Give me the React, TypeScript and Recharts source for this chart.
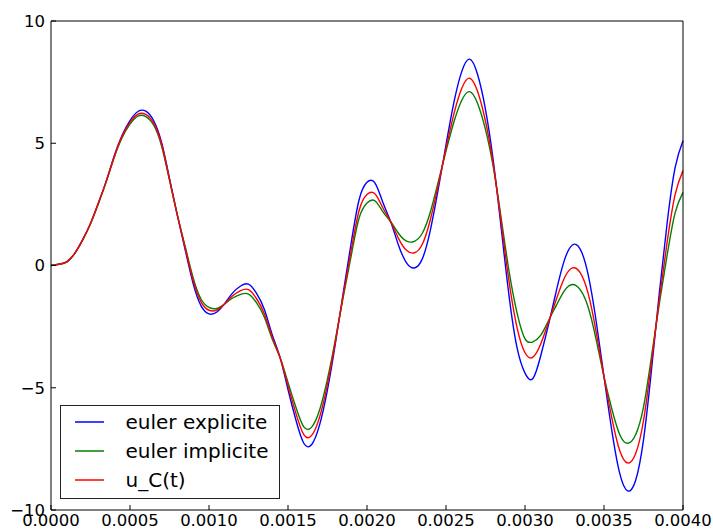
import { LineChart, Line, XAxis, YAxis, Legend } from 'recharts'

// time grid, step 0.05 ms
const step = 0.00005
const time = Array.from({ length: 81 }, (_, k) => +(k * step).toFixed(5))

const uC = [
  0, 0.05, 0.15, 0.5, 1.05, 1.72, 2.55, 3.45, 4.45, 5.28,
  5.85, 6.19, 6.18, 5.82, 4.95, 3.52, 2.05, 0.7, -0.62, -1.5,
  -1.83, -1.82, -1.56, -1.24, -1.03, -0.99, -1.35, -1.97, -2.93, -3.77,
  -4.92, -6.05, -6.92, -6.95, -6.2, -4.85, -3.1, -1.2, 0.62, 2.25,
  2.9, 2.93, 2.36, 1.79, 1.1, 0.62, 0.52, 0.87, 1.85, 3.27,
  4.78, 6.2, 7.25, 7.66, 7.12, 5.9, 4.1, 1.73, -0.7, -2.55,
  -3.57, -3.75, -3.2, -2.3, -1.35, -0.5, -0.1, -0.3, -1.15, -2.7,
  -4.55, -6.25, -7.58, -8.08, -7.7, -6.35, -3.98, -1.39, 0.98, 2.9,
  3.88,
]

const eulerExplicite = [
  0, 0.05, 0.15, 0.5, 1.05, 1.72, 2.56, 3.46, 4.48, 5.33,
  5.93, 6.3, 6.31, 5.92, 5.03, 3.56, 2.05, 0.62, -0.75, -1.65,
  -1.98, -1.9, -1.55, -1.12, -0.84, -0.76, -1.13, -1.79, -2.83, -3.77,
  -5.07, -6.32, -7.27, -7.32, -6.52, -5.08, -3.19, -1.1, 0.93, 2.69,
  3.4, 3.38, 2.59, 1.79, 0.82, 0.11, -0.1, 0.27, 1.42, 3.09,
  4.93, 6.67, 7.94, 8.44, 7.81, 6.38, 4.25, 1.49, -1.29, -3.37,
  -4.4, -4.62, -3.68, -2.39, -0.99, 0.23, 0.84, 0.66, -0.38, -2.26,
  -4.55, -6.77, -8.51, -9.22, -8.79, -7.13, -4.3, -1.14, 1.76, 4.0,
  5.1,
]

const eulerImplicite = [
  0, 0.05, 0.15, 0.49, 1.04, 1.71, 2.53, 3.43, 4.42, 5.23,
  5.78, 6.11, 6.09, 5.74, 4.89, 3.49, 2.05, 0.76, -0.51, -1.38,
  -1.71, -1.76, -1.57, -1.33, -1.18, -1.17, -1.52, -2.11, -3.01, -3.77,
  -4.78, -5.8, -6.6, -6.61, -5.91, -4.64, -3.02, -1.27, 0.4, 1.94,
  2.56, 2.65, 2.2, 1.79, 1.31, 1.0, 0.99, 1.32, 2.17, 3.4,
  4.68, 5.87, 6.76, 7.11, 6.63, 5.56, 4.0, 1.9, -0.27, -1.95,
  -3.0, -3.12, -2.85, -2.24, -1.61, -1.03, -0.78, -1.0, -1.71, -3.02,
  -4.55, -5.88, -6.92, -7.27, -6.92, -5.79, -3.75, -1.56, 0.44, 2.15,
  2.99,
]

const xTicks = [0, 0.0005, 0.001, 0.0015, 0.002, 0.0025, 0.003, 0.0035, 0.004]
const yTicks = [-10, -5, 0, 5, 10]

const series = [
  { key: 'explicite', label: 'euler explicite', color: '#0000ff', values: eulerExplicite },
  { key: 'implicite', label: 'euler implicite', color: '#008000', values: eulerImplicite },
  { key: 'exact', label: 'u_C(t)', color: '#ff0000', values: uC },
]

const rows = time.map((t, i) => {
  const row: Record<string, number> = { t }
  series.forEach((s) => (row[s.key] = s.values[i]))
  return row
})

const font = 'DejaVu Sans'
const tickStyle = { fill: '#000', fontSize: 16.5, fontFamily: font }

function LegendBox() {
  return (
    <div
      style={{
        border: '1.5px solid #222',
        background: '#fff',
        width: 220,
        boxSizing: 'border-box',
        padding: '1px 0 4px 0',
        fontFamily: font,
        fontSize: 20,
        color: '#000',
      }}
    >
      {series.map((s) => (
        <div key={s.key} style={{ display: 'flex', alignItems: 'center', height: 29 }}>
          <svg width={29} height={6} style={{ marginLeft: 13.5, marginRight: 22, display: 'block' }}>
            <line x1={0} y1={3} x2={29} y2={3} stroke={s.color} strokeWidth={1.5} />
          </svg>
          <span>{s.label}</span>
        </div>
      ))}
    </div>
  )
}

export default function App() {
  return (
    <div style={{ position: 'absolute', left: 0, top: 0 }}>
      <LineChart
        width={713}
        height={530}
        data={rows}
        margin={{ top: 20, right: 29, bottom: 0, left: 0 }}
      >
        <XAxis
          xAxisId="bottom"
          dataKey="t"
          type="number"
          domain={[0, 0.004]}
          ticks={xTicks}
          interval={0}
          height={20}
          tickSize={-5}
          tickMargin={9}
          tickFormatter={(v: number) => v.toFixed(4)}
          tick={tickStyle}
          stroke="#000"
        />
        <XAxis
          xAxisId="top"
          dataKey="t"
          orientation="top"
          type="number"
          domain={[0, 0.004]}
          ticks={xTicks}
          interval={0}
          height={1}
          tickSize={-5}
          tick={false}
          stroke="#000"
        />
        <YAxis
          yAxisId="left"
          type="number"
          domain={[-10, 10]}
          ticks={yTicks}
          interval={0}
          width={51}
          tickSize={-5}
          tickMargin={11}
          tickFormatter={(v: number) => (v < 0 ? '\u2212' + Math.abs(v) : String(v))}
          tick={tickStyle}
          stroke="#000"
        />
        <YAxis
          yAxisId="right"
          orientation="right"
          type="number"
          domain={[-10, 10]}
          ticks={yTicks}
          interval={0}
          width={1}
          tickSize={-5}
          tick={false}
          stroke="#000"
        />
        {series.map((s) => (
          <Line
            key={s.key}
            xAxisId="bottom"
            yAxisId="left"
            dataKey={s.key}
            name={s.label}
            type="natural"
            stroke={s.color}
            strokeWidth={1.4}
            dot={false}
            isAnimationActive={false}
          />
        ))}
        {/* invisible series so the top / right frame axes get drawn */}
        <Line
          xAxisId="top"
          yAxisId="right"
          dataKey="exact"
          stroke="none"
          dot={false}
          legendType="none"
          isAnimationActive={false}
        />
        <Legend
          layout="vertical"
          align="center"
          verticalAlign="middle"
          content={<LegendBox />}
          wrapperStyle={{ left: 60, top: 405, width: 'auto', height: 'auto' }}
        />
      </LineChart>
    </div>
  )
}
